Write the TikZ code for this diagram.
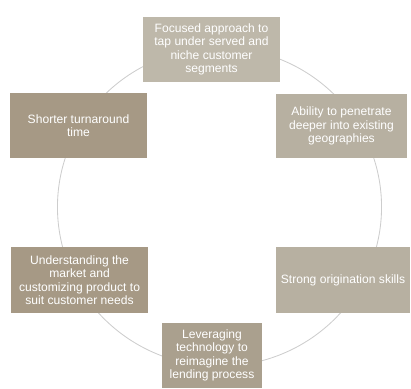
\documentclass[tikz,border=0pt]{standalone}
\usepackage{fontspec}
\setmainfont{Liberation Sans}

\definecolor{boxlight}{RGB}{190,184,170}
\definecolor{boxmid}{RGB}{183,176,161}
\definecolor{boxdark}{RGB}{166,153,133}
\definecolor{boxbrown}{RGB}{170,160,142}
\definecolor{ringgray}{RGB}{205,205,205}

\tikzset{
  stepbox/.style={rectangle, align=center, text=white, inner sep=2pt,
    font=\fontsize{8.6}{9.6}\selectfont},
}

\begin{document}
\begin{tikzpicture}[x=0.025cm,y=-0.025cm]
\useasboundingbox (0,0) rectangle (411,388);

% Draw the ring
\coordinate (centre) at (219.5,207);
\draw[ringgray, line width=0.6pt] (centre) ellipse [x radius=4.05cm, y radius=3.98cm];

% Draw the boxes
\node[stepbox, fill=boxlight, minimum width=3.425cm, minimum height=1.625cm] (focus) at (211.5,49.5)
  {Focused approach to\\tap under served and\\niche customer\\segments};
\node[stepbox, fill=boxdark, minimum width=3.425cm, minimum height=1.625cm] (turnaround) at (78.5,125.5)
  {Shorter turnaround\\time};
\node[stepbox, fill=boxmid, minimum width=3.275cm, minimum height=1.6cm] (penetrate) at (341.5,126)
  {Ability to penetrate\\deeper into existing\\geographies};
\node[stepbox, fill=boxdark, minimum width=3.425cm, minimum height=1.65cm] (market) at (79.5,280)
  {Understanding the\\market and\\customizing product to\\suit customer needs};
\node[stepbox, fill=boxmid, minimum width=3.35cm, minimum height=1.65cm] (origination) at (343,280)
  {Strong origination skills};
\node[stepbox, fill=boxbrown, minimum width=2.5cm, minimum height=1.625cm] (technology) at (212,355.5)
  {Leveraging\\technology to\\reimagine the\\lending process};

\end{tikzpicture}
\end{document}
